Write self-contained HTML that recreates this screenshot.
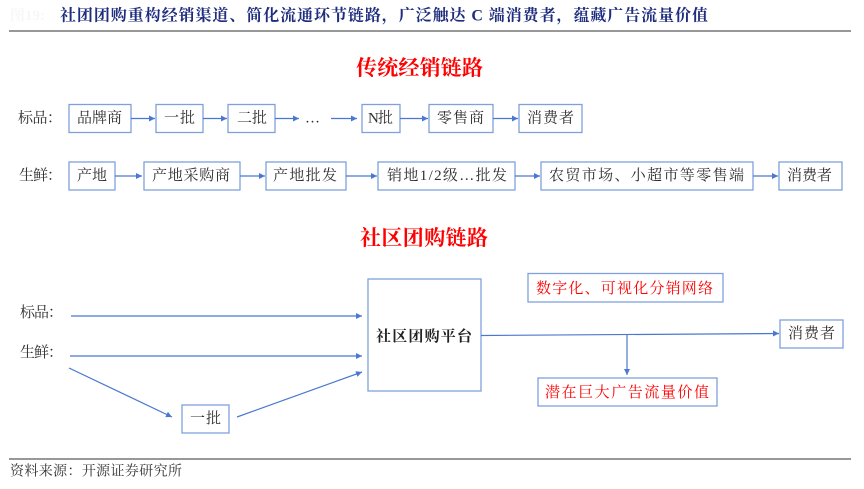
<!DOCTYPE html>
<html><head><meta charset="utf-8"><style>
html,body{margin:0;padding:0;background:#fff;}
svg{display:block;}
text{font-family:"Liberation Serif","Noto Serif CJK SC",serif;}
.t{fill:#2e2e2e;font-size:15px;}
.b{fill:none;stroke:#7fa0dc;stroke-width:1.3;}
.a{stroke:#4a78d0;stroke-width:1.2;fill:none;}
</style></head><body>
<svg width="864" height="489" viewBox="0 0 864 489" xmlns="http://www.w3.org/2000/svg">
<defs>
<marker id="ah" markerWidth="8" markerHeight="8" refX="6" refY="3" orient="auto" markerUnits="userSpaceOnUse">
<path d="M0,0 L6,3 L0,6 z" fill="#4a78d0"/>
</marker>
</defs>
<!-- title -->
<text x="10" y="16" dominant-baseline="central" font-size="15" fill="#f7f7f7" font-weight="bold">图19:</text>
<text x="60" y="16" dominant-baseline="central" font-size="16" font-weight="bold" fill="#1f2d7e" textLength="648" lengthAdjust="spacing">社团团购重构经销渠道、简化流通环节链路，广泛触达 C 端消费者，蕴藏广告流量价值</text>
<line x1="9" y1="31" x2="851" y2="31" stroke="#777" stroke-width="1.5"/>

<!-- heading 1 -->
<text x="356" y="68" dominant-baseline="central" font-size="21" font-weight="bold" fill="#ff0000" textLength="127" lengthAdjust="spacing">传统经销链路</text>

<!-- row 1 -->
<text class="t" x="18" y="118.5" dominant-baseline="central" textLength="44" lengthAdjust="spacing">标品：</text>
<rect class="b" x="69" y="104.5" width="62" height="28"/>
<text class="t" x="77" y="118.5" dominant-baseline="central" textLength="45" lengthAdjust="spacing">品牌商</text>
<rect class="b" x="156" y="104.5" width="47" height="28"/>
<text class="t" x="164" y="118.5" dominant-baseline="central" textLength="31" lengthAdjust="spacing">一批</text>
<rect class="b" x="228" y="104.5" width="47" height="28"/>
<text class="t" x="237" y="118.5" dominant-baseline="central" textLength="30" lengthAdjust="spacing">二批</text>
<text class="t" x="305" y="118.5" dominant-baseline="central" font-size="12">…</text>
<rect class="b" x="362" y="104.5" width="38" height="28"/>
<text class="t" x="368" y="118.5" dominant-baseline="central" font-family="Liberation Sans,Noto Sans CJK SC,sans-serif" textLength="25" lengthAdjust="spacing">N批</text>
<rect class="b" x="429" y="104.5" width="64" height="28"/>
<text class="t" x="437" y="118.5" dominant-baseline="central" textLength="47" lengthAdjust="spacing">零售商</text>
<rect class="b" x="519" y="104.5" width="63" height="28"/>
<text class="t" x="527" y="118.5" dominant-baseline="central" textLength="47" lengthAdjust="spacing">消费者</text>
<line class="a" x1="131" y1="118.5" x2="155" y2="118.5" marker-end="url(#ah)"/>
<line class="a" x1="203" y1="118.5" x2="227" y2="118.5" marker-end="url(#ah)"/>
<line class="a" x1="275" y1="118.5" x2="299" y2="118.5" marker-end="url(#ah)"/>
<line class="a" x1="331" y1="118.5" x2="357" y2="118.5" marker-end="url(#ah)"/>
<line class="a" x1="400" y1="118.5" x2="428" y2="118.5" marker-end="url(#ah)"/>
<line class="a" x1="493" y1="118.5" x2="518" y2="118.5" marker-end="url(#ah)"/>

<!-- row 2 -->
<text class="t" x="19" y="176" dominant-baseline="central" textLength="43" lengthAdjust="spacing">生鲜：</text>
<rect class="b" x="69" y="162" width="46" height="28"/>
<text class="t" x="77" y="176" dominant-baseline="central" textLength="30" lengthAdjust="spacing">产地</text>
<rect class="b" x="144" y="162" width="96" height="28"/>
<text class="t" x="152" y="176" dominant-baseline="central" textLength="78" lengthAdjust="spacing">产地采购商</text>
<rect class="b" x="266" y="162" width="80" height="28"/>
<text class="t" x="273" y="176" dominant-baseline="central" textLength="64" lengthAdjust="spacing">产地批发</text>
<rect class="b" x="378" y="162" width="137" height="28"/>
<text class="t" x="387" y="176" dominant-baseline="central" textLength="120" lengthAdjust="spacing">销地1/2级…批发</text>
<rect class="b" x="541" y="162" width="212" height="28"/>
<text class="t" x="549" y="176" dominant-baseline="central" textLength="195" lengthAdjust="spacing">农贸市场、小超市等零售端</text>
<rect class="b" x="779" y="162" width="63" height="28"/>
<text class="t" x="787" y="176" dominant-baseline="central" textLength="45" lengthAdjust="spacing">消费者</text>
<line class="a" x1="115" y1="176" x2="142" y2="176" marker-end="url(#ah)"/>
<line class="a" x1="240" y1="176" x2="265" y2="176" marker-end="url(#ah)"/>
<line class="a" x1="346" y1="176" x2="377" y2="176" marker-end="url(#ah)"/>
<line class="a" x1="515" y1="176" x2="540" y2="176" marker-end="url(#ah)"/>
<line class="a" x1="753" y1="176" x2="778" y2="176" marker-end="url(#ah)"/>

<!-- heading 2 -->
<text x="360" y="238" dominant-baseline="central" font-size="21" font-weight="bold" fill="#ff0000" textLength="128" lengthAdjust="spacing">社区团购链路</text>

<!-- bottom -->
<text class="t" x="20" y="313" dominant-baseline="central" textLength="43" lengthAdjust="spacing">标品：</text>
<text class="t" x="20" y="353" dominant-baseline="central" textLength="43" lengthAdjust="spacing">生鲜：</text>
<line class="a" x1="71" y1="316" x2="362" y2="316" marker-end="url(#ah)"/>
<line class="a" x1="70" y1="356" x2="362" y2="356" marker-end="url(#ah)"/>
<line class="a" x1="69" y1="368" x2="172" y2="417" marker-end="url(#ah)"/>
<rect class="b" x="182" y="405" width="47" height="28"/>
<text class="t" x="190" y="419" dominant-baseline="central" textLength="31" lengthAdjust="spacing">一批</text>
<line class="a" x1="237" y1="417" x2="362" y2="372" marker-end="url(#ah)"/>

<rect class="b" x="368" y="279" width="113" height="112"/>
<text x="376" y="337" dominant-baseline="central" font-size="15" font-weight="bold" fill="#222" textLength="96" lengthAdjust="spacing">社区团购平台</text>

<rect class="b" x="528" y="273.5" width="195" height="28.5"/>
<text x="536" y="289" dominant-baseline="central" font-size="15" fill="#ff0000" textLength="177" lengthAdjust="spacing">数字化、可视化分销网络</text>

<line class="a" x1="481" y1="335.5" x2="779" y2="333.5" marker-end="url(#ah)"/>
<line class="a" x1="627" y1="335" x2="627" y2="375" marker-end="url(#ah)"/>
<rect class="b" x="780" y="320" width="63" height="28"/>
<text class="t" x="788" y="334" dominant-baseline="central" textLength="47" lengthAdjust="spacing">消费者</text>

<rect class="b" x="538" y="378" width="179" height="28"/>
<text x="545" y="393" dominant-baseline="central" font-size="15" fill="#ff0000" textLength="164" lengthAdjust="spacing">潜在巨大广告流量价值</text>

<line x1="9" y1="459" x2="851" y2="459" stroke="#777" stroke-width="1.5"/>
<text x="10" y="472" dominant-baseline="central" font-size="14" fill="#333" textLength="172" lengthAdjust="spacing">资料来源：开源证券研究所</text>
</svg>
</body></html>
